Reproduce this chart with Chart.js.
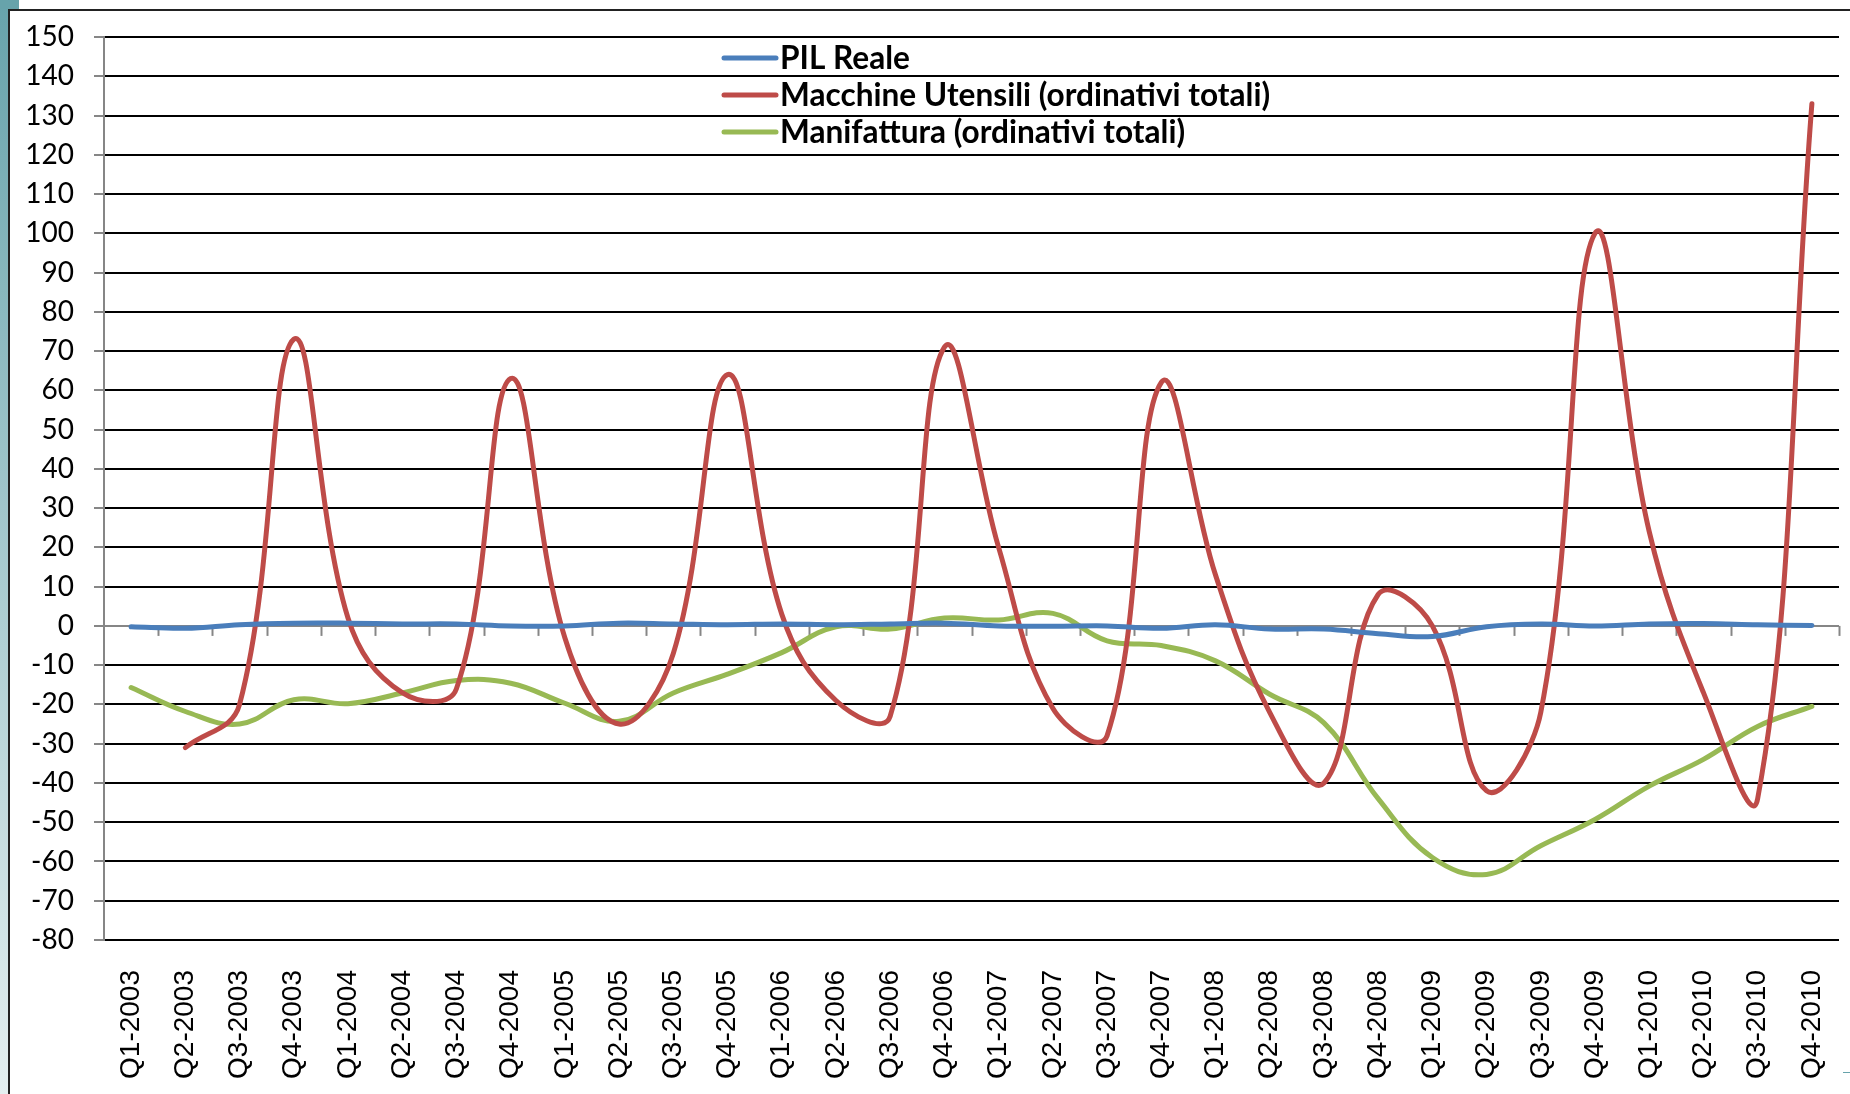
<!DOCTYPE html>
<html>
<head>
<meta charset="utf-8">
<title>PIL, Macchine Utensili, Manifattura</title>
<script src="https://cdn.jsdelivr.net/npm/chart.js@4.4.1/dist/chart.umd.min.js"></script>
<style>
html, body { margin: 0; padding: 0; background: #fff; }
#wrap { position: relative; width: 1850px; height: 1094px; overflow: hidden; }
#myChart { position: absolute; left: 0; top: 0; }
.strip { position: absolute; left: 0; top: 0; width: 8px; height: 1094px; background: linear-gradient(#67a3ab, #e4eff0); }
.corner { position: absolute; left: 0; top: 0; width: 19px; height: 9px; background: #67a3ab; }
.frame { position: absolute; left: 8px; top: 9px; width: 1860px; height: 1100px; border-left: 2px solid #222; border-top: 2px solid #222; box-sizing: border-box; }
.tail { position: absolute; left: 1843px; top: 1072px; width: 7px; height: 1px; background: #67a3ab; }
</style>
</head>
<body>
<div id="wrap">
  <canvas id="myChart" width="1850" height="1094"></canvas>
  <div class="strip"></div>
  <div class="corner"></div>
  <div class="frame"></div>
  <div class="tail"></div>
</div>
<script>
var quarters = [
    'Q1-2003', 'Q2-2003', 'Q3-2003', 'Q4-2003',
    'Q1-2004', 'Q2-2004', 'Q3-2004', 'Q4-2004',
    'Q1-2005', 'Q2-2005', 'Q3-2005', 'Q4-2005',
    'Q1-2006', 'Q2-2006', 'Q3-2006', 'Q4-2006',
    'Q1-2007', 'Q2-2007', 'Q3-2007', 'Q4-2007',
    'Q1-2008', 'Q2-2008', 'Q3-2008', 'Q4-2008',
    'Q1-2009', 'Q2-2009', 'Q3-2009', 'Q4-2009',
    'Q1-2010', 'Q2-2010', 'Q3-2010', 'Q4-2010'
];

var pilReale = [
    -0.2, -0.6, 0.3, 0.7,
    0.7, 0.5, 0.5, 0,
    0, 0.7, 0.5, 0.3,
    0.5, 0.3, 0.5, 0.7,
    0, -0.1, 0, -0.6,
    0.3, -0.8, -0.8, -2,
    -2.7, -0.2, 0.5, 0,
    0.5, 0.6, 0.3, 0.1
];

var macchineUtensili = [
    null, -31, -20, 73,
    2, -17, -16, 63,
    -3, -25, -7, 64,
    3, -19, -23, 71,
    20, -21, -28, 62,
    13, -22, -40, 8,
    0, -42, -22, 100,
    24, -17, -44, 133
];

var manifattura = [
    -15.7, -21.8, -25, -18.8,
    -19.8, -17.1, -13.9, -14.6,
    -19.7, -24.3, -17.1, -12.3,
    -6.8, -0.2, -0.8, 2,
    1.5, 3.2, -3.8, -5,
    -8.9, -17.4, -24.7, -44,
    -59, -63.3, -56, -49.3,
    -40.8, -34, -25.6, -20.5
];

// small tick marks hanging under the zero line, like the excel category axis
var zeroTicks = {
    id: 'zeroTicks',
    beforeDatasetsDraw: function (chart) {
        var x = chart.scales.x, y = chart.scales.y, c = chart.ctx;
        var y0 = y.getPixelForValue(0);
        var step = (x.right - x.left) / quarters.length;
        c.save();
        c.strokeStyle = '#868686';
        c.lineWidth = 2;
        for (var i = 1; i <= quarters.length; i++) {
            var px = Math.round(x.left + step * i) + 0.5;
            c.beginPath();
            c.moveTo(px, y0);
            c.lineTo(px, y0 + 10);
            c.stroke();
        }
        c.restore();
    }
};

// legend sits inside the plot with no background, gridlines show through
var legendBox = {
    id: 'legendBox',
    afterDraw: function (chart) {
        var c = chart.ctx;
        c.save();
        c.font = 'bold 31.6px Lato';
        c.textBaseline = 'middle';
        chart.data.datasets.forEach(function (ds, i) {
            var yy = 58 + i * 37;
            c.strokeStyle = ds.borderColor;
            c.lineWidth = 5;
            c.lineCap = 'round';
            c.beginPath();
            c.moveTo(724, yy);
            c.lineTo(776, yy);
            c.stroke();
            c.fillStyle = '#000';
            c.fillText(ds.label, 780, yy + 1);
        });
        c.restore();
    }
};

var ctx = document.getElementById('myChart').getContext('2d');
var myChart = new Chart(ctx, {
    type: 'line',
    data: {
        labels: quarters,
        datasets: [
            { label: 'PIL Reale', data: pilReale, borderColor: '#4A7EBB' },
            { label: 'Macchine Utensili (ordinativi totali)', data: macchineUtensili, borderColor: '#BE4B48' },
            { label: 'Manifattura (ordinativi totali)', data: manifattura, borderColor: '#98B954' }
        ]
    },
    options: {
        responsive: false,
        animation: false,
        layout: { padding: { top: 37, right: 11, left: 0, bottom: 0 } },
        elements: {
            point: { radius: 0 },
            line: { tension: 0.4, borderWidth: 5, borderCapStyle: 'round', borderJoinStyle: 'round', fill: false }
        },
        plugins: {
            legend: { display: false },
            tooltip: { enabled: false }
        },
        scales: {
            x: {
                offset: true,
                grid: { display: false, drawTicks: false },
                border: { display: false },
                ticks: {
                    autoSkip: false,
                    minRotation: 90,
                    maxRotation: 90,
                    padding: 30,
                    color: '#000',
                    font: { family: 'Liberation Sans', size: 28 }
                },
                afterFit: function (s) {
                    s.height = 154;
                    s.paddingLeft = 0;
                    s.paddingRight = 0;
                }
            },
            y: {
                min: -80,
                max: 150,
                ticks: {
                    stepSize: 10,
                    padding: 20,
                    color: '#000',
                    font: { family: 'Lato', size: 28 }
                },
                grid: {
                    color: function (c) { return c.tick && c.tick.value === 0 ? '#868686' : '#000'; },
                    lineWidth: 2,
                    tickColor: '#868686',
                    tickLength: 10
                },
                border: { color: '#868686', width: 2 },
                afterFit: function (s) { s.width = 104; }
            }
        }
    },
    plugins: [zeroTicks, legendBox]
});
</script>
</body>
</html>
